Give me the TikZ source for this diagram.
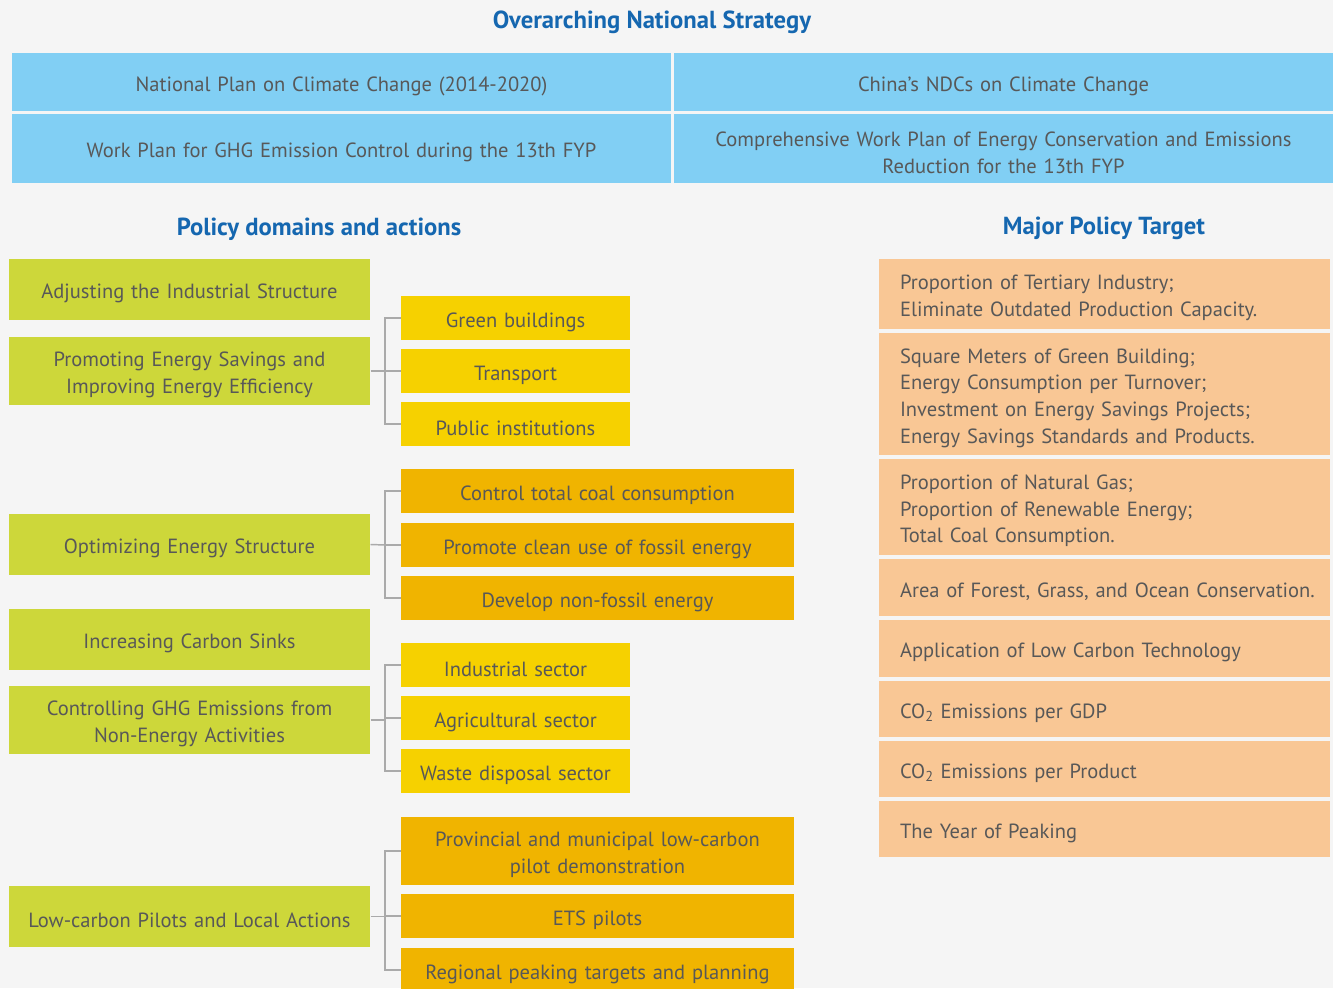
\documentclass[tikz,border=0pt]{standalone}
\usepackage{fontspec}
\setmainfont{PT Sans}
\definecolor{bgGray}{RGB}{245,245,245}
\definecolor{headBlue}{RGB}{21,103,176}
\definecolor{txtGray}{RGB}{88,88,88}
\definecolor{skyBox}{RGB}{129,207,244}
\definecolor{limeBox}{RGB}{205,215,58}
\definecolor{yelBox}{RGB}{246,209,0}
\definecolor{ambBox}{RGB}{240,180,0}
\definecolor{peachBox}{RGB}{249,199,149}
\definecolor{linkGray}{RGB}{170,170,170}
\tikzset{every picture/.style={line width=0.75pt}}
% sizes below are in pt (1px = 0.75pt)
\tikzset{
  heading/.style={font=\bfseries\fontsize{18.5}{22}\selectfont, text=headBlue, inner sep=0pt},
  boxtxt/.style={font=\fontsize{15.4}{20}\selectfont, text=txtGray, align=center, inner sep=0pt,
    execute at begin node={\rule{0pt}{17pt}}},
  strat/.style={boxtxt, fill=skyBox, minimum width=494.25pt, text width=494.25pt},
  domainbox/.style={boxtxt, fill=limeBox, minimum width=270.75pt, minimum height=45.75pt, text width=270.75pt},
  subA/.style={boxtxt, fill=yelBox, minimum width=171.75pt, minimum height=33pt, text width=171.75pt},
  subB/.style={boxtxt, fill=ambBox, minimum width=294.75pt, minimum height=33pt, text width=294.75pt},
  target/.style={boxtxt, fill=peachBox, align=left, text width=338.25pt,
    execute at begin node={\leftskip=15.75pt\rule{0pt}{17pt}}},
  link/.style={draw=linkGray, line width=1.1pt}
}
\begin{document}
\begin{tikzpicture}[x=0.75pt,y=0.75pt,yscale=-1,xscale=1]
%set diagram as 1333 x 988
\useasboundingbox (0,0) rectangle (1333,988);
\fill[bgGray] (0,0) rectangle (1333,988);

% Headings
\node[heading] (hStrat) at (652,22) {Overarching National Strategy};
\node[heading] (hDom) at (319,229) {Policy domains and actions};
\node[heading] (hTgt) at (1104,228) {Major Policy Target};

% Strategy boxes
\node[strat, minimum height=43.5pt] (s1) at (341.5,82) {National Plan on Climate Change (2014-2020)};
\node[strat, minimum height=43.5pt] (s2) at (1003.5,82) {China’s NDCs on Climate Change};
\node[strat, minimum height=51.75pt] (s3) at (341.5,148.5) {Work Plan for GHG Emission Control during the 13th FYP};
\node[strat, minimum height=51.75pt] (s4) at (1003.5,148.5) {Comprehensive Work Plan of Energy Conservation and Emissions\\Reduction for the 13th FYP};

% Policy domains
\node[domainbox] (dInd) at (189.5,289.5) {Adjusting the Industrial Structure};
\node[domainbox, minimum height=51pt] (dSav) at (189.5,371) {Promoting Energy Savings and\\Improving Energy Efficiency};
\node[domainbox] (dStr) at (189.5,544.5) {Optimizing Energy Structure};
\node[domainbox] (dSnk) at (189.5,639.5) {Increasing Carbon Sinks};
\node[domainbox, minimum height=51pt] (dNon) at (189.5,720) {Controlling GHG Emissions from\\Non-Energy Activities};
\node[domainbox] (dPil) at (189.5,916.5) {Low-carbon Pilots and Local Actions};

% Actions
\node[subA] (aGb) at (515.5,318) {Green buildings};
\node[subA] (aTr) at (515.5,371) {Transport};
\node[subA] (aPi) at (515.5,424) {Public institutions};
\node[subB] (aCo) at (597.5,491) {Control total coal consumption};
\node[subB] (aCl) at (597.5,545) {Promote clean use of fossil energy};
\node[subB] (aNf) at (597.5,598) {Develop non-fossil energy};
\node[subA] (aIs) at (515.5,665) {Industrial sector};
\node[subA] (aAs) at (515.5,718) {Agricultural sector};
\node[subA] (aWs) at (515.5,771) {Waste disposal sector};
\node[subB, minimum height=51pt] (aPm) at (597.5,851) {Provincial and municipal low-carbon\\pilot demonstration};
\node[subB] (aEt) at (597.5,916) {ETS pilots};
\node[subB] (aRp) at (597.5,970) {Regional peaking targets and planning};

% Connectors
\coordinate (jSav) at (385,371);
\coordinate (jStr) at (385,545);
\coordinate (jNon) at (385,720);
\coordinate (jPil) at (385,916.5);
\draw[link] (dSav.east) -- (jSav);
\draw[link] (dStr.east) -- (jStr);
\draw[link] (dNon.east) -- (jNon);
\draw[link] (dPil.east) -- (jPil);
\foreach \c in {aGb,aTr,aPi} \draw[link] (\c.west) -| (jSav);
\foreach \c in {aCo,aCl,aNf} \draw[link] (\c.west) -| (jStr);
\foreach \c in {aIs,aAs,aWs} \draw[link] (\c.west) -| (jNon);
\foreach \c in {aPm,aEt,aRp} \draw[link] (\c.west) -| (jPil);

% Targets
\node[target, minimum height=52.5pt] (t1) at (1104.5,294) {Proportion of Tertiary Industry;\\Eliminate Outdated Production Capacity.};
\node[target, minimum height=91.5pt] (t2) at (1104.5,394) {Square Meters of Green Building;\\Energy Consumption per Turnover;\\Investment on Energy Savings Projects;\\Energy Savings Standards and Products.};
\node[target, minimum height=72pt] (t3) at (1104.5,507) {Proportion of Natural Gas;\\Proportion of Renewable Energy;\\Total Coal Consumption.};
\node[target, minimum height=42.75pt] (t4) at (1104.5,587.5) {Area of Forest, Grass, and Ocean Conservation.};
\node[target, minimum height=42.75pt] (t5) at (1104.5,648.5) {Application of Low Carbon Technology};
\node[target, minimum height=42pt] (t6) at (1104.5,709) {CO\textsubscript{2} Emissions per GDP};
\node[target, minimum height=42pt] (t7) at (1104.5,769) {CO\textsubscript{2} Emissions per Product};
\node[target, minimum height=42pt] (t8) at (1104.5,829) {The Year of Peaking};

\end{tikzpicture}
\end{document}
